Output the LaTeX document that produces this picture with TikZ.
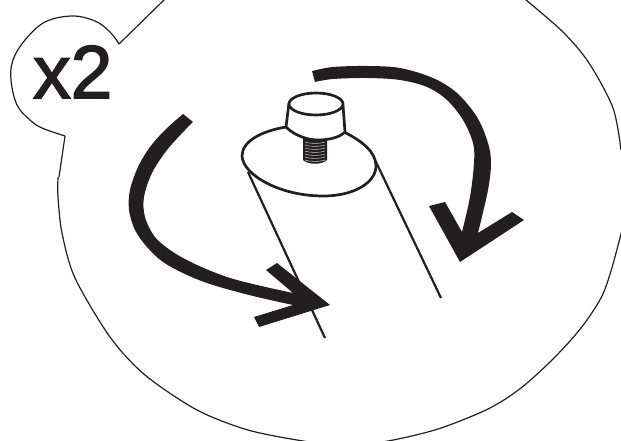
\documentclass[tikz,border=0pt]{standalone}
\usepackage{fontspec}
\setmainfont{Liberation Sans}
\newfontfamily\labelfont[FakeBold=2]{Liberation Sans}
\definecolor{ink}{HTML}{231F20}
\tikzset{
  outline/.style={draw=ink,line width=1.2pt,line join=round},
  rim/.style={draw=ink,line width=2.7pt,line join=round,line cap=round},
  tube/.style={draw=ink,line width=2.2pt},
  thread/.style={draw=white!75!ink,line width=0.55pt},
  bigarrow/.style={fill=ink,draw=none}
}
\begin{document}
\begin{tikzpicture}[x=1pt,y=-1pt]
\useasboundingbox (0,0) rectangle (621,441);
\clip (0,0) rectangle (621,441);
\fill[white] (0,0) rectangle (621,441);
% outline
\draw[outline] (165,-1) -- (119,44);
\draw[outline] plot[smooth,tension=0.6] coordinates {(119,44) (110,32) (95,21) (72,16) (45,22) (25,40) (13,60) (11,80) (17,105) (30,120) (42,128) (65,136)};
\draw[outline] (65,136) -- (59,177);
\draw[outline] plot[smooth,tension=0.5] coordinates {(58,177) (58,197) (62,233) (75,278) (110,337) (145,375) (197,410) (248,430) (303,441) (345,446) (388,441) (438,429) (488,409) (521,388) (554,358) (581,328) (601,298) (611,271) (621,234) (630,200)};
\draw[outline] plot[smooth,tension=0.5] coordinates {(526,0) (563,32) (589,63) (613,108) (621,150)};
% label
\node[anchor=base west,inner sep=0pt,text=ink,font=\labelfont\fontsize{75}{75}\selectfont] (label) at (33,98) {x2};
% cylinder
\draw[tube] (248,172) -- (325,338);
\draw[tube] (376,162) -- (441,298);
\draw[rim] (286,127) .. controls (262,131) and (242,141) .. (242,156) .. controls (243,175) and (280,196) .. (323,196) .. controls (355,196) and (376,182) .. (376,166) .. controls (376,152) and (362,141) .. (344,132);
% screw
\fill[ink] (303,138) -- (327,138) -- (327,160) .. controls (322,165) and (308,165) .. (303,160) -- cycle;
\foreach \yy in {142,145,148,151,154,157,160}
  \draw[thread] (305,\yy) .. controls (310,\yy+1.8) and (320,\yy+1.8) .. (325,\yy);
% knob
\draw[rim,fill=white] (286,127) .. controls (295,136) and (308,140) .. (318,140) .. controls (330,140) and (340,137) .. (345,132) -- (343,105) -- (289,103) -- cycle;
\draw[rim,fill=white] (316,104) ellipse[x radius=27,y radius=11];
% right arrow
\fill[bigarrow] plot[smooth,tension=0.55] coordinates {(312,71) (333,67) (367,66) (400,68) (433,78) (457,93) (477,117) (488,143) (491,163) (488,190) (478,233)} -- (512,212) -- (524,220) -- (460,262) -- (429,206) -- (445,202) -- (462,232) -- plot[smooth,tension=0.55] coordinates {(462,232) (470,197) (474,163) (473,143) (463,120) (447,100) (427,87) (400,80) (367,78) (333,79) (315,82)} -- cycle;
% left arrow
\fill[bigarrow] plot[smooth,tension=0.55] coordinates {(183,114) (165,130) (150,147) (138,167) (130,190) (129,210) (135,230) (147,247) (163,262) (187,275) (213,285) (253,296) (293,305)} -- (254,317) -- (259,327) -- (330,305) -- (277,263) -- (266,270) -- (293,293) -- plot[smooth,tension=0.55] coordinates {(293,293) (257,285) (227,277) (197,265) (173,252) (155,237) (145,217) (144,197) (152,173) (167,150) (185,130) (193,122)} -- cycle;
\end{tikzpicture}
\end{document}
